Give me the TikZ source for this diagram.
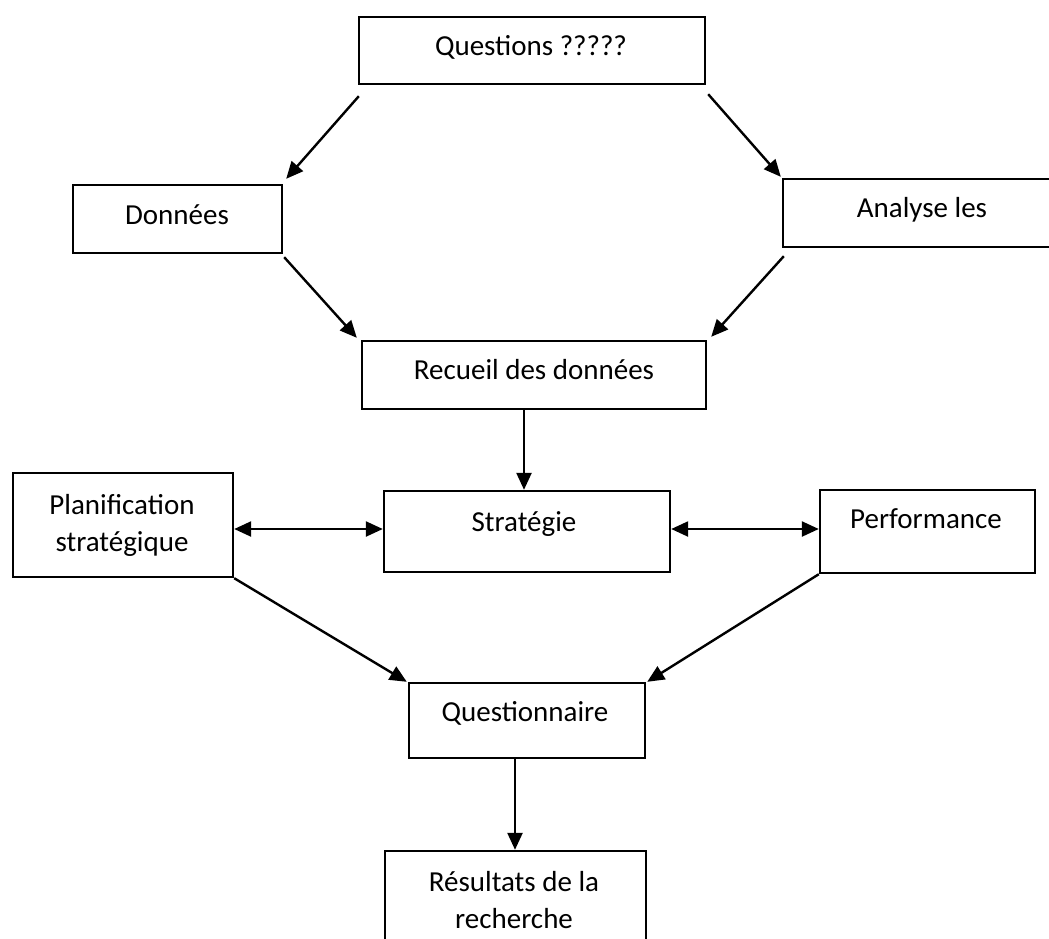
\documentclass[tikz,border=0pt]{standalone}
\usepackage{fontspec}
\setmainfont{Carlito}
\usetikzlibrary{arrows.meta,calc}

\tikzset{
  box/.style={draw=black, line width=2.4pt, rectangle, inner sep=0pt, fill=white},
  lbl/.style={anchor=base, inner sep=0pt, align=center,
              font=\fontsize{29}{37}\selectfont},
  tip/.style={Triangle[length=17pt,width=15pt]},
  flow/.style={line width=2.4pt, -{Triangle[length=17pt,width=15pt]}},
  both/.style={line width=2.4pt, {Triangle[length=17pt,width=15pt]}-{Triangle[length=17pt,width=15pt]}}
}

\begin{document}
\begin{tikzpicture}[x=1pt,y=-1pt]
  \useasboundingbox (0,0) rectangle (1049,938);
  \fill[white] (0,0) rectangle (1049,938);
  \clip (0,0) rectangle (1049,938);

  % boxes
  \node[box, minimum width=346pt, minimum height=67pt]  (q)   at (532,50.5)  {};
  \node[box, minimum width=209pt, minimum height=68pt]  (d)   at (177.5,219) {};
  \node[box, minimum width=282pt, minimum height=68pt]  (a)   at (924,213)   {};
  \node[box, minimum width=344pt, minimum height=68pt]  (r)   at (534,375)   {};
  \node[box, minimum width=286pt, minimum height=81pt]  (s)   at (527,531.5) {};
  \node[box, minimum width=220pt, minimum height=104pt] (p)   at (123,525)   {};
  \node[box, minimum width=215pt, minimum height=83pt]  (pf)  at (927.5,531.5) {};
  \node[box, minimum width=236pt, minimum height=75pt]  (qn)  at (527,720.5) {};
  \node[box, minimum width=261pt, minimum height=109pt] (res) at (515.5,905.5) {};

  % labels (base anchor of a two-line label is the baseline of its last line)
  \node[lbl] (tq)   at (531,55)  {Questions ?????};
  \node[lbl] (td)   at (177,224) {Données};
  \node[lbl] (ta)   at (922,217) {Analyse les};
  \node[lbl] (tr)   at (534,379) {Recueil des données};
  \node[lbl] (ts)   at (524,531) {Stratégie};
  \node[lbl] (tp)   at (122,551) {Planification\\stratégique};
  \node[lbl] (tpf)  at (926,528) {Performance};
  \node[lbl] (tqn)  at (525,721) {Questionnaire};
  \node[lbl] (tres) at (514,928) {Résultats de la\\recherche};

  % connectors
  \draw[flow] ($(q.south west)+(1,11)$) -- ($(d.north east)+(3,-5)$);
  \draw[flow] ($(q.south east)+(2,9)$)  -- ($(a.north west)+(-1,-1)$);
  \draw[flow] ($(d.south east)+(1,3)$)  -- ($(r.north west)+(-4,-2)$);
  \draw[flow] ($(a.south west)+(2,8)$)  -- ($(r.north east)+(4,-3)$);
  \draw[flow] ($(r.south)+(-10,0)$) -- ($(s.north)+(-3,0)$);
  \coordinate (ls) at ($(s.west)+(0,-2.5)$);
  \draw[both] (ls -| p.east) -- (ls);
  \coordinate (rs) at ($(s.east)+(0,-2.5)$);
  \draw[both] (rs) -- (rs -| pf.west);
  \draw[flow] (p.south east) -- ($(qn.north west)+(-1,0)$);
  \draw[flow] (pf.south west) -- ($(qn.north east)+(1,0)$);
  \draw[flow] ($(qn.south)+(-12,0)$) -- ($(res.north)+(-0.5,0)$);
\end{tikzpicture}
\end{document}
